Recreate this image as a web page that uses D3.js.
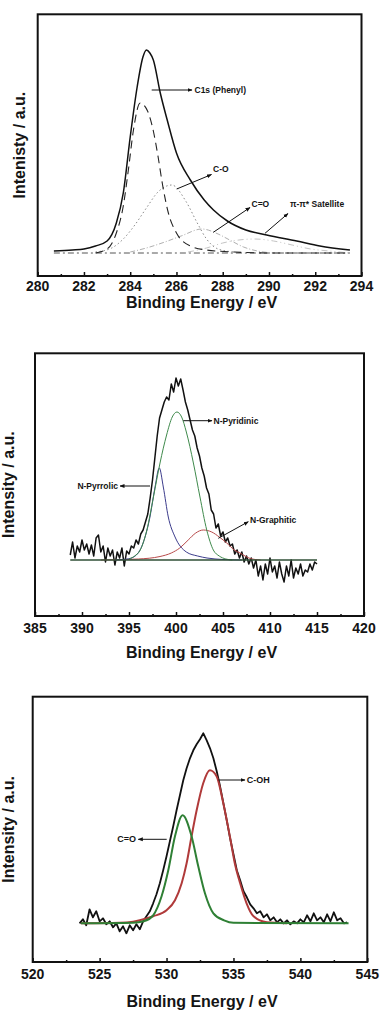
<!DOCTYPE html>
<html>
<head>
<meta charset="utf-8">
<script src="https://cdn.jsdelivr.net/npm/d3@7"></script>
<style>
  html, body { margin: 0; padding: 0; background: #fff; }
  svg { display: block; }
  text { font-family: "Liberation Sans", Arial, sans-serif; font-weight: bold; fill: #141414; }
</style>
</head>
<body>
<div id="chart"></div>
<script>
// ---------- C 1s panel ----------
const c1sTicks = [280, 282, 284, 286, 288, 290, 292, 294];
const c1sMinor = [281, 283, 285, 287, 289, 291, 293];
const c1sEnvelope = [[280.7, 2], [281.5, 3], [282, 4], [282.5, 7], [283, 12], [283.4, 30], [283.7, 60],
  [284, 116], [284.3, 166], [284.55, 196], [284.7, 203], [284.85, 200], [285, 193], [285.3, 160],
  [285.6, 133], [286, 100], [286.6, 73], [287.2, 53], [287.6, 43], [288.2, 32], [289, 23],
  [289.9, 18], [291.2, 12], [292.2, 7], [293.5, 3]];
const c1sPhenyl = [[282.5, 0], [283, 4], [283.4, 20], [283.7, 47], [283.92, 83], [284.14, 123],
  [284.43, 150], [284.75, 142], [285, 122], [285.2, 97], [285.4, 68], [285.65, 40], [286, 20],
  [286.6, 7], [287.3, 3], [288.5, 1], [290, 0], [293.5, 0]];
const c1sCO = [[282.5, 1], [283.2, 5], [283.7, 14], [284.2, 28], [284.7, 45], [285.2, 61], [285.8, 68],
  [286.4, 52], [286.9, 30], [287.3, 14], [287.8, 4], [288.5, 1]];
const c1sCdO = [[284, 1], [284.7, 5], [285.5, 11], [286.2, 17], [287.1, 24], [287.8, 19], [288.3, 13],
  [288.9, 6], [289.5, 2], [290.2, 0]];
const c1sSatellite = [[286.5, 1], [287.3, 5], [288, 10], [288.7, 13], [289.4, 14], [290.2, 12],
  [291, 8], [291.8, 4], [292.6, 2], [293.5, 0]];
const c1sBaseline = [[280.7, 0], [293.5, 0]];

// ---------- N 1s panel ----------
const n1sTicks = [385, 390, 395, 400, 405, 410, 415, 420];
const n1sMinor = [387.5, 392.5, 397.5, 402.5, 407.5, 412.5, 417.5];
const n1sRaw = [[388.75, 5], [389, 18], [389.25, 2], [389.5, 14], [389.75, 8], [390, 20], [390.25, 10],
  [390.5, 16], [390.75, 6], [391, 15], [391.25, 4], [391.5, 22], [391.75, 25], [392, 8], [392.25, 14],
  [392.5, -2], [392.75, 12], [393, 4], [393.25, 10], [393.5, -5], [393.75, 8], [394, 2], [394.25, 12],
  [394.5, -6], [394.75, 9], [395, 6], [395.25, 14], [395.5, 12], [395.75, 20], [396, 16], [396.25, 26],
  [396.5, 30], [396.75, 38], [397, 46], [397.25, 62], [397.5, 80], [397.75, 102], [398, 124],
  [398.25, 142], [398.5, 150], [398.75, 158], [399, 163], [399.25, 160], [399.5, 176], [399.75, 168],
  [400, 182], [400.25, 174], [400.5, 181], [400.75, 170], [401, 158], [401.25, 150], [401.5, 140],
  [401.75, 130], [402, 124], [402.25, 112], [402.5, 104], [402.75, 92], [403, 84], [403.25, 72],
  [403.5, 66], [403.75, 50], [404, 46], [404.25, 32], [404.5, 36], [404.75, 24], [405, 28], [405.25, 18],
  [405.5, 22], [405.75, 14], [406, 16], [406.25, 6], [406.5, 10], [406.75, 2], [407, 8], [407.25, -2],
  [407.5, 4], [407.75, -4], [408, 2], [408.25, -8], [408.5, 0], [408.75, -16], [409, -6], [409.25, -20],
  [409.5, -4], [409.75, -14], [410, 2], [410.25, -12], [410.5, -6], [410.75, -18], [411, -2],
  [411.25, -14], [411.5, -22], [411.75, -6], [412, -16], [412.25, 0], [412.5, -18], [412.75, -8],
  [413, -14], [413.25, -4], [413.5, -16], [413.75, -10], [414, -12], [414.25, -4], [414.5, -10],
  [414.75, -2], [415, -4]];
const n1sPyridinic = [[395, 1], [395.6, 4], [396.2, 10], [396.9, 30], [397.6, 63], [398.3, 97], [399, 125],
  [399.6, 143], [400.1, 148], [400.6, 143], [401.1, 128], [401.85, 97], [402.55, 63], [403.27, 30],
  [403.97, 10], [404.6, 4], [405.3, 1], [406, 0]];
const n1sPyrrolic = [[393.5, 0], [394.8, 1], [395.5, 3], [396.5, 17], [397.23, 43], [397.77, 73],
  [398.22, 92], [398.65, 73], [399.18, 43], [399.9, 23], [401.1, 8], [402.3, 4], [403.3, 2], [405, 0.5],
  [407, 0]];
const n1sGraphitic = [[392, 0], [396, 1], [398.3, 3.5], [399.5, 7], [400.4, 12], [401.3, 20], [402.1, 27],
  [402.9, 30], [403.8, 28], [404.6, 23], [405.4, 17], [406.2, 10], [406.8, 7], [407.9, 1.5], [409, 0]];
const n1sBaseline = [[388.75, 0], [415, 0]];

// ---------- O 1s panel ----------
const o1sTicks = [520, 525, 530, 535, 540, 545];
const o1sMinor = [522.5, 527.5, 532.5, 537.5, 542.5];
const o1sRaw = [[523.5, 0], [523.75, 4], [524, -2], [524.25, 14], [524.5, 6], [524.75, 12], [525, 2],
  [525.25, 5], [525.5, -1], [525.75, 2], [526, -4], [526.25, 0], [526.5, -8], [526.75, -3], [527, -10],
  [527.25, -2], [527.5, -7], [527.75, -1], [528, -6], [528.25, 2], [528.5, 7], [528.75, 12], [529, 20],
  [529.25, 29], [529.5, 40], [529.75, 53], [530, 67], [530.25, 82], [530.5, 97], [530.75, 113],
  [531, 128], [531.25, 143], [531.5, 155], [531.75, 165], [532, 173], [532.25, 179], [532.5, 184],
  [532.75, 190], [533, 183], [533.25, 175], [533.5, 165], [533.75, 152], [534, 137], [534.25, 120],
  [534.5, 103], [534.75, 85], [535, 69], [535.25, 53], [535.5, 43], [535.75, 32], [536, 26],
  [536.25, 19], [536.5, 15], [536.75, 10], [537, 12], [537.25, 6], [537.5, 9], [537.75, 3], [538, 6],
  [538.25, 1], [538.5, 4], [538.75, 0], [539, 3], [539.25, -1], [539.5, 2], [539.75, 0], [540, 4],
  [540.25, 1], [540.5, 8], [540.75, 2], [541, 10], [541.25, 3], [541.5, 6], [541.75, 1], [542, 9],
  [542.25, 2], [542.5, 11], [542.75, 3], [543, 5], [543.25, 0], [543.5, 1]];
const o1sCOH = [[523.6, 0], [526.5, 0.5], [527.5, 1.5], [528, 3], [529, 7], [530, 13], [530.63, 23],
  [531.13, 40], [531.5, 60], [531.87, 87], [532.25, 113], [532.74, 140], [533.24, 153], [533.74, 147],
  [534.24, 120], [534.73, 87], [535.1, 60], [535.5, 40], [535.98, 20], [536.5, 7], [537.5, 1], [539, 0]];
const o1sCdO = [[523.6, 0], [527.5, 0.5], [528.3, 2], [529, 8], [529.63, 27], [530.13, 53], [530.63, 87],
  [531.2, 108], [531.87, 87], [532.37, 57], [532.87, 30], [533.5, 10], [534.3, 3], [535, 0.5],
  [543.6, 0]];

const W = 380, H = 1010;
const svg = d3.select('#chart').append('svg')
  .attr('width', W)
  .attr('height', H);

svg.append('defs').append('marker')
  .attr('id', 'arrow')
  .attr('viewBox', '0 0 10 10')
  .attr('refX', 9).attr('refY', 5)
  .attr('markerWidth', 5).attr('markerHeight', 5)
  .attr('orient', 'auto')
  .append('path')
  .attr('d', 'M0,1 L10,5 L0,9 Z')
  .attr('fill', '#111');

function drawPanel(p) {
  let x = d3.scaleLinear().domain(p.xDomain).range([p.left, p.right]);
  let y = d3.scaleLinear().domain(p.yDomain).range([p.bottom, p.top]);
  let g = svg.append('g');

  // inward ticks along the bottom edge
  let axis = d3.axisTop(x).tickValues(p.ticks).tickSize(4).tickFormat('');
  g.append('g').attr('transform', `translate(0,${p.bottom})`).call(axis)
    .call(s => s.select('.domain').remove())
    .selectAll('line').attr('stroke', '#111').attr('stroke-width', 1.5);
  let minor = d3.axisTop(x).tickValues(p.minor).tickSize(2).tickFormat('');
  g.append('g').attr('transform', `translate(0,${p.bottom})`).call(minor)
    .call(s => s.select('.domain').remove())
    .selectAll('line').attr('stroke', '#111').attr('stroke-width', 1.5);

  g.selectAll('.tlab').data(p.ticks).enter().append('text')
    .attr('x', d => x(d))
    .attr('y', p.tickY)
    .attr('text-anchor', 'middle')
    .attr('font-size', 14)
    .text(d => d);

  g.append('text')
    .attr('x', (p.left + p.right) / 2 + 2)
    .attr('y', p.titleY)
    .attr('text-anchor', 'middle')
    .attr('font-size', 16)
    .text('Binding Energy / eV');

  g.append('text')
    .attr('transform', `translate(${p.yTitleX},${(p.top + p.bottom) / 2}) rotate(-90)`)
    .attr('text-anchor', 'middle')
    .attr('font-size', 16)
    .text(p.yTitle);

  let line = d3.line().x(d => x(d[0])).y(d => y(d[1]));
  p.series.forEach(s => {
    g.append('path')
      .datum(s.data)
      .attr('d', line.curve(s.smooth ? d3.curveMonotoneX : d3.curveLinear))
      .attr('fill', 'none')
      .attr('stroke', s.color)
      .attr('stroke-width', s.width)
      .attr('stroke-dasharray', s.dash || null)
      .attr('stroke-linejoin', 'round');
  });

  p.notes.forEach(n => {
    g.append('line')
      .attr('x1', n.from[0]).attr('y1', n.from[1])
      .attr('x2', n.to[0]).attr('y2', n.to[1])
      .attr('stroke', '#111').attr('stroke-width', 1)
      .attr('marker-end', 'url(#arrow)');
    g.append('text')
      .attr('x', n.at[0]).attr('y', n.at[1])
      .attr('text-anchor', n.anchor || 'start')
      .attr('font-size', n.size || 8.5)
      .text(n.text);
  });

  g.append('rect')
    .attr('x', p.left).attr('y', p.top)
    .attr('width', p.right - p.left).attr('height', p.bottom - p.top)
    .attr('fill', 'none').attr('stroke', '#111').attr('stroke-width', 2);
}

drawPanel({
  left: 37.7, right: 361.5, top: 14.3, bottom: 276,
  xDomain: [280, 294], yDomain: [-23, 238.7],
  ticks: c1sTicks, minor: c1sMinor,
  tickY: 291, titleY: 308, yTitleX: 25, yTitle: 'Intenisty / a.u.',
  series: [
    {data: c1sBaseline, color: '#555', width: 1, dash: '6,3,2,3'},
    {data: c1sSatellite, color: '#c4c4c4', width: 1, dash: '6,3,1,3,1,3', smooth: true},
    {data: c1sCdO, color: '#b0b0b0', width: 1, dash: '5,2,1,2', smooth: true},
    {data: c1sCO, color: '#8a8a8a', width: 1, dash: '1.5,2.5', smooth: true},
    {data: c1sPhenyl, color: '#222', width: 1.1, dash: '8,5', smooth: true},
    {data: c1sEnvelope, color: '#111', width: 1.5, smooth: true}
  ],
  notes: [
    {text: 'C1s (Phenyl)', from: [151.7, 90], to: [192, 90], at: [194.5, 93]},
    {text: 'C-O', from: [176.7, 189], to: [211.5, 174.5], at: [213, 172]},
    {text: 'C=O', from: [213.3, 232.3], to: [250, 207.5], at: [251.5, 207]},
    {text: 'π-π* Satellite', from: [265, 233.3], to: [288, 213.5], at: [290, 207]}
  ]
});

drawPanel({
  left: 35, right: 364, top: 353.3, bottom: 616,
  xDomain: [385, 420], yDomain: [-56, 206.7],
  ticks: n1sTicks, minor: n1sMinor,
  tickY: 633, titleY: 658, yTitleX: 13.5, yTitle: 'Intensity / a.u.',
  series: [
    {data: n1sRaw, color: '#111', width: 1.5},
    {data: n1sGraphitic, color: '#b84a4a', width: 1, smooth: true},
    {data: n1sPyrrolic, color: '#3c3c8c', width: 1, smooth: true},
    {data: n1sPyridinic, color: '#3f8a4c', width: 1, smooth: true},
    {data: n1sBaseline, color: '#2f4f36', width: 1.5}
  ],
  notes: [
    {text: 'N-Pyridinic', from: [183.3, 420.7], to: [212, 420.7], at: [213.5, 423.7]},
    {text: 'N-Pyrrolic', from: [150, 486], to: [120, 486], at: [118, 489], anchor: 'end'},
    {text: 'N-Graphitic', from: [218.3, 538.3], to: [248.3, 521.7], at: [250, 522.5]}
  ]
});

drawPanel({
  left: 32.7, right: 367.3, top: 696.7, bottom: 962,
  xDomain: [520, 545], yDomain: [-38.7, 226.6],
  ticks: o1sTicks, minor: o1sMinor,
  tickY: 979, titleY: 1007, yTitleX: 13.5, yTitle: 'Intensity / a.u.',
  series: [
    {data: o1sRaw, color: '#111', width: 1.8},
    {data: o1sCOH, color: '#b03a3a', width: 2, smooth: true},
    {data: o1sCdO, color: '#2f8035', width: 2, smooth: true}
  ],
  notes: [
    {text: 'C-OH', from: [218.3, 780], to: [245, 780], at: [246.7, 783], size: 9},
    {text: 'C=O', from: [166.7, 839.3], to: [138.3, 839.3], at: [136, 842.3], anchor: 'end', size: 9}
  ]
});
</script>
</body>
</html>
